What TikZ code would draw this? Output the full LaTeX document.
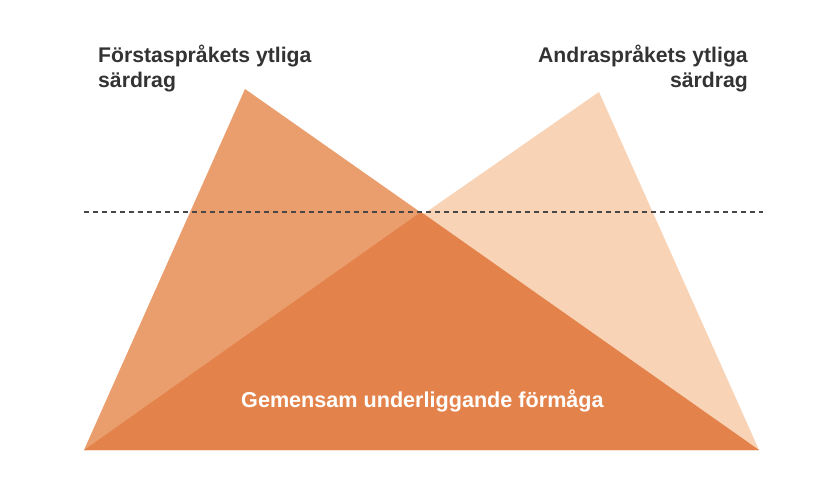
\documentclass[tikz,border=0pt]{standalone}
\usepackage{fontspec}
\setmainfont{Liberation Sans}
\definecolor{leftc}{HTML}{EB9E6D}
\definecolor{rightc}{HTML}{F8D3B6}
\definecolor{midc}{HTML}{E3834B}
\definecolor{txt}{HTML}{333333}
\begin{document}
\begin{tikzpicture}[x=1pt,y=-1pt,
  lbl/.style={font=\bfseries\fontsize{21.2}{25}\selectfont, text=txt, inner sep=0pt},
  dots/.style={draw=txt!90, line width=1.6pt, dash pattern=on 4.5pt off 4.5pt}]
\useasboundingbox (0,0) rectangle (825,495);
\coordinate (la) at (245,89);
\coordinate (ra) at (599,92);
\coordinate (bl) at (84,450);
\coordinate (br) at (759,450);
\coordinate (x) at (421,212);
\fill[leftc] (la) -- (bl) -- (br) -- cycle;
\fill[rightc] (ra) -- (bl) -- (br) -- cycle;
\fill[midc] (bl) -- (x) -- (br) -- cycle;
\coordinate (d1) at (84,212);
\coordinate (d2) at (763,212);
\draw[dots] (d1) -- (d2);
\node[lbl, anchor=base west, align=left] (t1) at (98,88) {Förstaspråkets ytliga\\särdrag};
\node[lbl, anchor=base east, align=right] (t2) at (748,88) {Andraspråkets ytliga\\särdrag};
\node[lbl, font=\bfseries\fontsize{21.6}{25}\selectfont, text=white, anchor=base west] (t3) at (241,407) {Gemensam underliggande förmåga};
\end{tikzpicture}
\end{document}
